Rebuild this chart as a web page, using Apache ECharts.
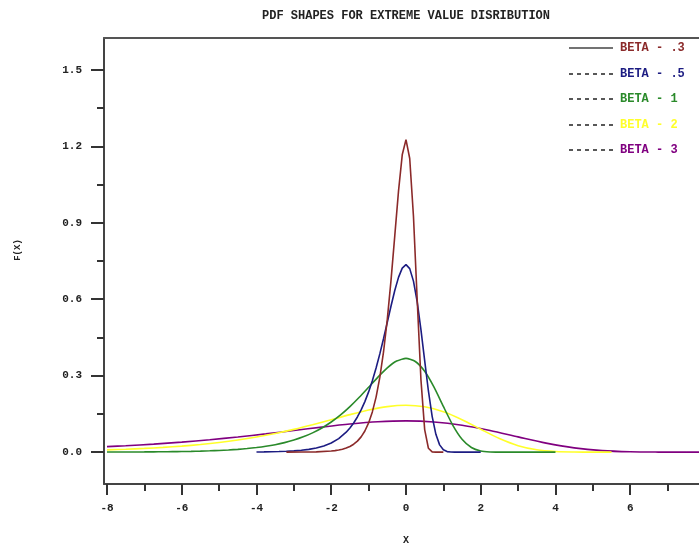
<!DOCTYPE html>
<html>
<head>
<meta charset="utf-8">
<script src="https://cdn.jsdelivr.net/npm/echarts@6/dist/echarts.min.js"></script>
<style>html,body{margin:0;padding:0;background:#fff}#c{width:699px;height:544px}</style>
</head>
<body>
<div id="c"></div>
<script>
const title = 'PDF SHAPES FOR EXTREME VALUE DISRIBUTION';
const xTitle = 'X';
const yTitle = 'F(X)';
const seriesNames = ['BETA - .3', 'BETA - .5', 'BETA - 1', 'BETA - 2', 'BETA - 3'];
const seriesColors = ['#8b2a2a', '#1c1c82', '#2a8a2a', '#ffff2a', '#800080'];
const xTickMajor = [-8, -6, -4, -2, 0, 2, 4, 6];
const xTickMinor = [-7, -5, -3, -1, 1, 3, 5, 7];
const yTickMajor = [0, 0.3, 0.6, 0.9, 1.2, 1.5];
const yTickMinor = [0.15, 0.45, 0.75, 1.05, 1.35];

// beta = .3
const x03 = [-3.2,-2.8,-2.4,-2.0,-1.9,-1.8,-1.7,-1.6,-1.5,-1.4,-1.3,-1.2,-1.1,-1.0,-0.9,-0.8,-0.7,-0.6,-0.5,-0.4,-0.3,-0.2,-0.1,0,0.1,0.2,0.3,0.4,0.5,0.6,0.7,0.8,0.9,1.0];
const y03 = [0.00008,0.00029,0.00112,0.00424,0.00591,0.00824,0.01149,0.01602,0.02231,0.03105,0.04318,0.05994,0.08306,0.11475,0.1579,0.21606,0.29337,0.39401,0.52123,0.67508,0.84882,1.02418,1.16666,1.22626,1.15217,0.92583,0.59791,0.28473,0.08852,0.01522,0.00114,0.00003,0,0];
// beta = .5
const x05 = [-4.0,-3.8,-3.6,-3.4,-3.2,-3.0,-2.8,-2.6,-2.4,-2.2,-2.0,-1.8,-1.6,-1.5,-1.4,-1.3,-1.2,-1.1,-1.0,-0.9,-0.8,-0.7,-0.6,-0.5,-0.4,-0.3,-0.2,-0.1,0,0.1,0.2,0.3,0.4,0.5,0.6,0.7,0.8,0.9,1.0,1.1,1.2,1.3,1.4,1.6,2.0];
const y05 = [0.00067,0.001,0.00149,0.00223,0.00332,0.00495,0.00737,0.01097,0.01632,0.02425,0.03597,0.05318,0.07827,0.09474,0.11444,0.13791,0.1657,0.19836,0.23641,0.28023,0.32998,0.38541,0.44574,0.50929,0.57338,0.63403,0.68579,0.7221,0.73576,0.72016,0.67111,0.58923,0.48067,0.35875,0.23997,0.1406,0.06997,0.02854,0.00913,0.00217,0.00036,0.00004,0,0,0];
// beta = 1
const x1 = [-8,-7.75,-7.5,-7.25,-7,-6.75,-6.5,-6.25,-6,-5.75,-5.5,-5.25,-5,-4.75,-4.5,-4.25,-4,-3.75,-3.5,-3.25,-3,-2.75,-2.5,-2.25,-2,-1.75,-1.5,-1.25,-1,-0.75,-0.5,-0.25,0,0.25,0.5,0.75,1,1.25,1.5,1.75,2,2.25,2.5,2.75,3,3.5,4];
const y1 = [0.000335,0.000431,0.000553,0.00071,0.000911,0.00117,0.001501,0.001927,0.002473,0.003173,0.00407,0.00522,0.006693,0.008577,0.010986,0.014062,0.017983,0.022971,0.029299,0.037299,0.047369,0.059969,0.075617,0.094857,0.118204,0.146054,0.178504,0.215139,0.254646,0.294544,0.330705,0.357423,0.367879,0.355562,0.317032,0.254887,0.179374,0.106403,0.050707,0.01822,0.004566,0.000718,0.0000625,0.0000025,0,0,0];
// beta = 2
const x2 = [-8,-7.5,-7,-6.5,-6,-5.5,-5,-4.5,-4,-3.5,-3,-2.5,-2,-1.5,-1,-0.5,0,0.5,1,1.5,2,2.5,3,3.5,4,4.5,5,5.5];
const y2 = [0.008992,0.011486,0.01465,0.01865,0.023685,0.029985,0.037809,0.047429,0.059102,0.073027,0.089252,0.10757,0.127323,0.147272,0.165353,0.178712,0.18394,0.177781,0.158516,0.127444,0.089687,0.053202,0.025354,0.00911,0.002283,0.000359,0.0000313,0];
// beta = 3
const x3 = [-8,-7.5,-6.75,-6,-5.25,-4.5,-3.75,-3,-2.25,-1.5,-0.75,0,0.75,1.5,2.25,3,3.75,4.5,5.25,6,6.75,7.5,8];
const y3 = [0.021606,0.025206,0.031619,0.039401,0.048685,0.059501,0.071713,0.084882,0.098181,0.110235,0.119141,0.122626,0.118521,0.105677,0.084962,0.059791,0.035468,0.016902,0.006073,0.001522,0.000239,0.0000208,0];

const xs = [x03, x05, x1, x2, x3];
const ys = [y03, y05, y1, y2, y3];
const smoothing = [false, false, 0.2, 0.3, 0.3];

const FONT = '"Liberation Mono", "DejaVu Sans Mono", monospace';
const XMIN = -8.08, XMAX = 7.84, YMIN = -0.125, YMAX = 1.625;

const chart = echarts.init(document.getElementById('c'), null, {renderer: 'canvas'});

// draw order: purple, yellow, green, blue, red (red on top)
const order = [4, 3, 2, 1, 0];
const series = order.map(i => ({
  name: seriesNames[i],
  type: 'line',
  xAxisIndex: 0,
  yAxisIndex: 0,
  data: xs[i].map((x, k) => [x, ys[i][k]]),
  showSymbol: false,
  smooth: smoothing[i],
  lineStyle: {color: seriesColors[i], width: 1.6},
  itemStyle: {color: seriesColors[i]},
  clip: true,
  animation: false
}));

const legendY = [48, 74, 99, 125, 150];
const graphics = [];
seriesNames.forEach((n, i) => {
  graphics.push({
    type: 'line',
    shape: {x1: 569, y1: legendY[i], x2: 613, y2: legendY[i]},
    style: {stroke: i === 0 ? '#444' : '#222', lineWidth: 1.5, lineDash: i === 0 ? null : [4, 4]}
  });
  graphics.push({
    type: 'text',
    x: 620, y: legendY[i],
    style: {text: n, fill: seriesColors[i], font: 'bold 12px ' + FONT, textVerticalAlign: 'middle', textAlign: 'left'}
  });
});
graphics.push({
  type: 'text', x: 18, y: 250, rotation: Math.PI / 2,
  style: {text: yTitle, fill: '#222', font: 'bold 9px ' + FONT, textAlign: 'center', textVerticalAlign: 'middle'}
});
graphics.push({
  type: 'text', x: 406, y: 16,
  style: {text: title, fill: '#222', font: 'bold 12px ' + FONT, textAlign: 'center', textVerticalAlign: 'middle'}
});
graphics.push({
  type: 'text', x: 406, y: 540,
  style: {text: xTitle, fill: '#222', font: 'bold 10px ' + FONT, textAlign: 'center', textVerticalAlign: 'middle'}
});

chart.setOption({
  animation: false,
  backgroundColor: '#fff',
  grid: {left: 104, top: 38, right: 0, bottom: 60, containLabel: false, outerBoundsMode: 'none'},
  xAxis: [
    {
      type: 'value', min: XMIN, max: XMAX, position: 'bottom',
      axisLine: {show: true, onZero: false, lineStyle: {color: '#444', width: 2}},
      axisTick: {show: true, inside: false, length: 11, customValues: xTickMajor, lineStyle: {color: '#333', width: 2}},
      axisLabel: {show: true, customValues: xTickMajor, margin: 19, fontFamily: FONT, fontSize: 11, fontWeight: 'bold', color: '#222', formatter: v => String(v)},
      splitLine: {show: false}
    },
    {
      type: 'value', min: XMIN, max: XMAX, position: 'bottom',
      axisLine: {show: false, onZero: false},
      axisTick: {show: true, inside: false, length: 7, customValues: xTickMinor, lineStyle: {color: '#333', width: 2}},
      axisLabel: {show: false},
      splitLine: {show: false}
    },
    {
      type: 'value', min: XMIN, max: XMAX, position: 'top',
      axisLine: {show: true, onZero: false, lineStyle: {color: '#555', width: 2}},
      axisTick: {show: false}, axisLabel: {show: false}, splitLine: {show: false}
    }
  ],
  yAxis: [
    {
      type: 'value', min: YMIN, max: YMAX, position: 'left',
      axisLine: {show: true, onZero: false, lineStyle: {color: '#444', width: 2}},
      axisTick: {show: true, inside: false, length: 13, customValues: yTickMajor, lineStyle: {color: '#333', width: 2}},
      axisLabel: {show: true, customValues: yTickMajor, margin: 22, fontFamily: FONT, fontSize: 11, fontWeight: 'bold', color: '#222', formatter: v => v.toFixed(1)},
      splitLine: {show: false}
    },
    {
      type: 'value', min: YMIN, max: YMAX, position: 'left',
      axisLine: {show: false, onZero: false},
      axisTick: {show: true, inside: false, length: 7, customValues: yTickMinor, lineStyle: {color: '#333', width: 2}},
      axisLabel: {show: false},
      splitLine: {show: false}
    }
  ],
  series: series,
  graphic: graphics
});
</script>
</body>
</html>
